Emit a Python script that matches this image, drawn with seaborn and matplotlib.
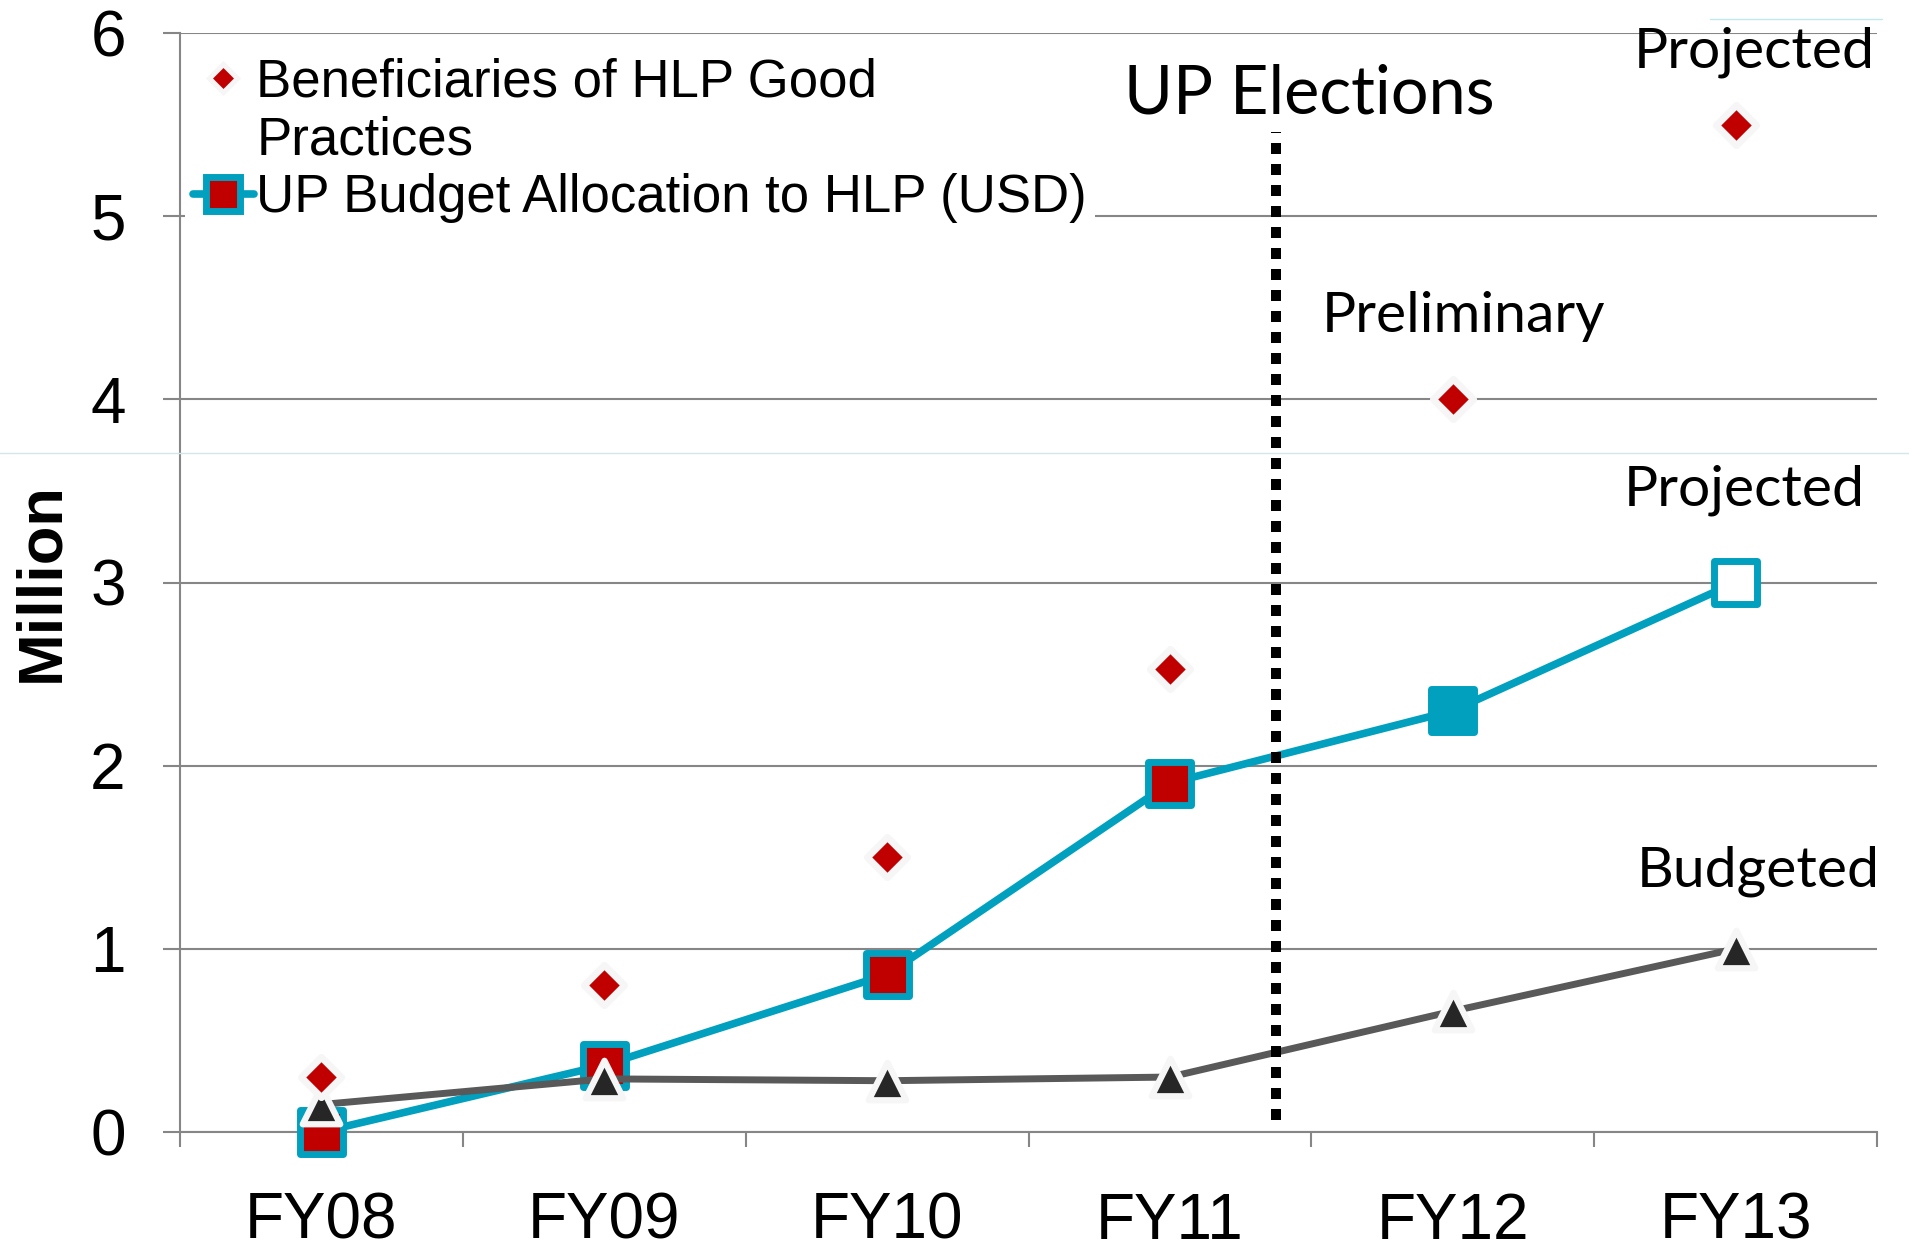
import numpy as np
import pandas as pd
import matplotlib
matplotlib.use("Agg")
import matplotlib.pyplot as plt
from matplotlib.lines import Line2D
import seaborn as sns

# ---------------- data ----------------
years = ["FY08", "FY09", "FY10", "FY11", "FY12", "FY13"]
beneficiaries = [0.30, 0.80, 1.50, 2.53, 4.00, 5.50]
budget_alloc = [0.00, 0.365, 0.86, 1.905, 2.30, 3.00]
budget_status = ["Actual", "Actual", "Actual", "Actual", "Preliminary", "Projected"]
budgeted = [0.15, 0.29, 0.28, 0.30, 0.66, 1.00]
y_ticks = [0, 1, 2, 3, 4, 5, 6]
legend_labels = ["Beneficiaries of HLP Good", "Practices", "UP Budget Allocation to HLP (USD)"]

election_x = 3.375
election_y = (0.065, 5.46)

annotations = [
    ("UP Elections", 3.494, 5.56, 48),
    ("Projected", 5.067, 5.81, 41),
    ("Preliminary", 4.038, 4.37, 41),
    ("Projected", 5.03, 3.42, 41),
    ("Budgeted", 5.08, 1.34, 41),
]

# ---------------- style ----------------
TEAL = "#00A0BE"
RED = "#C00000"
GRAY_LINE = "#595959"
DARK = "#262626"
HALO = "#F6F6F6"
GRID = "#868686"

sns.set_theme(style="white")
plt.rcParams["font.family"] = ["Liberation Sans", "DejaVu Sans"]
plt.rcParams["text.color"] = "black"
plt.rcParams["xtick.color"] = "black"
plt.rcParams["ytick.color"] = "black"
plt.rcParams["axes.labelcolor"] = "black"

fig = plt.figure(figsize=(19.09, 12.52), dpi=100)
ax = fig.add_axes([180 / 1909, 1 - 1132 / 1252, 1697 / 1909, 1099 / 1252])

pos = np.arange(len(years))
df = pd.DataFrame({
    "pos": pos,
    "year": years,
    "ben": beneficiaries,
    "alloc": budget_alloc,
    "status": budget_status,
    "budgeted": budgeted,
})

# teal budget allocation line + squares
sns.lineplot(data=df, x="pos", y="alloc", color=TEAL, lw=5.5, ax=ax, zorder=3,
             solid_capstyle="round")
sns.scatterplot(data=df, x="pos", y="alloc", hue="status",
                palette={"Actual": RED, "Preliminary": TEAL, "Projected": "white"},
                marker="s", s=31 ** 2, edgecolor=TEAL, linewidth=5, legend=False,
                ax=ax, zorder=4, clip_on=False)

# gray budgeted line + triangles
sns.lineplot(data=df, x="pos", y="budgeted", color=GRAY_LINE, lw=5, ax=ax, zorder=5)
sns.scatterplot(data=df, x="pos", y="budgeted", marker="^", s=27 ** 2, color=DARK,
                edgecolor=HALO, linewidth=4.5, legend=False, ax=ax, zorder=6,
                clip_on=False)

# beneficiaries diamonds
sns.scatterplot(data=df, x="pos", y="ben", marker="D", s=20.5 ** 2, color=RED,
                edgecolor=HALO, linewidth=5, legend=False, ax=ax, zorder=7,
                clip_on=False)

# election divider
ax.plot([election_x, election_x], list(election_y), color="black", lw=7.2,
        linestyle=(0, (1.1, 1.0)), dash_capstyle="butt", zorder=8)

for txt, tx, ty, fs in annotations:
    ax.text(tx, ty, txt, ha="center", va="baseline", fontsize=fs,
            family=["Lato", "DejaVu Sans"], color="black", zorder=9)

# axes
ax.set_xlim(-0.5, 5.5)
ax.set_ylim(0, 6)
ax.set_xticks(pos)
ax.set_xticklabels(years, fontsize=46)
ax.set_xticks(np.arange(-0.5, 6.0, 1.0), minor=True)
ax.tick_params(axis="x", which="major", length=0, pad=43, bottom=True)
ax.tick_params(axis="x", which="minor", length=11, width=1.5, color=GRID,
               direction="out", bottom=True)
ax.set_yticks(y_ticks)
ax.tick_params(axis="y", length=12, width=1.5, color=GRID, pad=27, labelsize=46,
               left=True, direction="out", labelcolor="black")
ax.tick_params(axis="x", labelcolor="black")
ax.grid(axis="y", color=GRID, lw=1.5)
ax.grid(axis="x", visible=False)
ax.set_axisbelow(True)
for side in ["top", "right"]:
    ax.spines[side].set_visible(False)
for side in ["left", "bottom"]:
    ax.spines[side].set_color(GRID)
    ax.spines[side].set_linewidth(1.5)
ax.set_xlabel("")
ax.set_ylabel("Million", fontsize=45.5, fontweight="bold", color="black")
ax.yaxis.set_label_coords(-0.064, 0.5)

# legend
h1 = Line2D([], [], ls="none", marker="D", ms=14, mfc=RED, mec=HALO, mew=3.6)
h_blank = Line2D([], [], ls="none")
h2 = Line2D([], [], color=TEAL, lw=5.5, marker="s", ms=24, mfc=RED, mec=TEAL, mew=5)
leg = ax.legend([h1, h_blank, h2], legend_labels, loc="upper left",
                bbox_to_anchor=(0.003, 0.985), fontsize=38, frameon=True,
                framealpha=1, facecolor="white", edgecolor="none",
                handlelength=1.15, handletextpad=0.05, labelspacing=0.15,
                borderpad=0.15, borderaxespad=0)
for t in leg.get_texts():
    t.set_color("black")
leg.set_zorder(10)

# faint slide artefact lines
fig.add_artist(Line2D([0, 1], [1 - 453 / 1252] * 2, transform=fig.transFigure,
                      color="#D5E6E6", lw=1))
fig.add_artist(Line2D([1710 / 1909, 1882 / 1909], [1 - 19 / 1252] * 2,
                      transform=fig.transFigure, color="#BFE9EC", lw=1))

fig.savefig("out.png", dpi=100)
